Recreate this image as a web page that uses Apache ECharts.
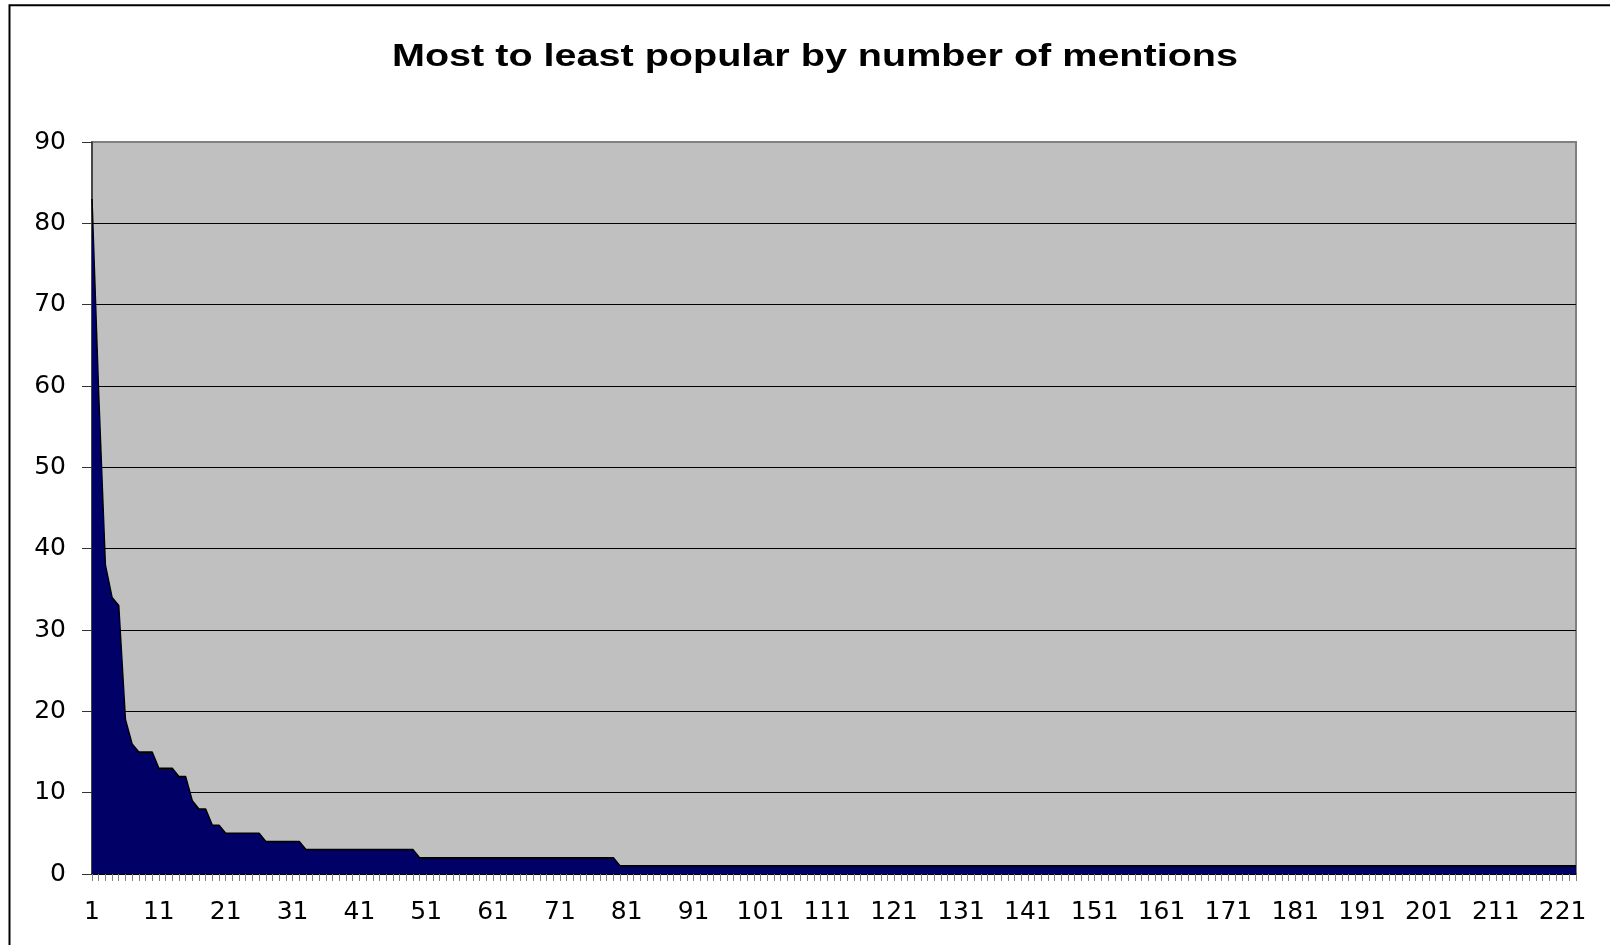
<!DOCTYPE html>
<html>
<head>
<meta charset="utf-8">
<script src="https://cdn.jsdelivr.net/npm/echarts@6/dist/echarts.min.js"></script>
<style>
html,body{margin:0;padding:0;background:#fff;}
#chart{width:1610px;height:945px;}
</style>
</head>
<body>
<div id="chart"></div>
<script>
const titleText = 'Most to least popular by number of mentions';
const yTicks = [0, 10, 20, 30, 40, 50, 60, 70, 80, 90];
// mentions per item, ranked from most to least popular (items 1..223)
const mentions = [
  83, 59, 38, 34, 33, 19, 16, 15, 15, 15,
  13, 13, 13, 12, 12, 9, 8, 8, 6, 6,
  5, 5, 5, 5, 5, 5, 4, 4, 4, 4,
  4, 4, 3, 3, 3, 3, 3, 3, 3, 3,
  3, 3, 3, 3, 3, 3, 3, 3, 3, 2,
  2, 2, 2, 2, 2, 2, 2, 2, 2, 2,
  2, 2, 2, 2, 2, 2, 2, 2, 2, 2,
  2, 2, 2, 2, 2, 2, 2, 2, 2, 1,
  1, 1, 1, 1, 1, 1, 1, 1, 1, 1,
  1, 1, 1, 1, 1, 1, 1, 1, 1, 1,
  1, 1, 1, 1, 1, 1, 1, 1, 1, 1,
  1, 1, 1, 1, 1, 1, 1, 1, 1, 1,
  1, 1, 1, 1, 1, 1, 1, 1, 1, 1,
  1, 1, 1, 1, 1, 1, 1, 1, 1, 1,
  1, 1, 1, 1, 1, 1, 1, 1, 1, 1,
  1, 1, 1, 1, 1, 1, 1, 1, 1, 1,
  1, 1, 1, 1, 1, 1, 1, 1, 1, 1,
  1, 1, 1, 1, 1, 1, 1, 1, 1, 1,
  1, 1, 1, 1, 1, 1, 1, 1, 1, 1,
  1, 1, 1, 1, 1, 1, 1, 1, 1, 1,
  1, 1, 1, 1, 1, 1, 1, 1, 1, 1,
  1, 1, 1, 1, 1, 1, 1, 1, 1, 1,
  1, 1, 1
];
const ranks = mentions.map((_, i) => String(i + 1));

const NUMFONT = '"DejaVu Sans", "Liberation Sans", sans-serif';
const chart = echarts.init(document.getElementById('chart'), null, {renderer: 'canvas'});
const gridLineColors = yTicks.map((v, i) => i === yTicks.length - 1 ? '#808080' : '#000000');

chart.setOption({
  animation: false,
  backgroundColor: '#ffffff',
  graphic: [{
    type: 'rect',
    shape: {x: 9.5, y: 5.3, width: 1700, height: 1000},
    style: {fill: 'none', stroke: '#000', lineWidth: 2},
    silent: true,
    z: 100
  }, {
    type: 'text',
    x: 815,
    y: 57,
    scaleX: 1.236,
    silent: true,
    style: {
      text: titleText,
      x: 0, y: 0,
      align: 'center',
      verticalAlign: 'middle',
      font: 'bold 32px "Liberation Sans", Arial, sans-serif',
      fill: '#000'
    },
    z: 100
  }],
  grid: {
    left: 92, top: 142, right: 34, bottom: 71,
    show: true,
    backgroundColor: '#C0C0C0',
    borderColor: '#808080',
    borderWidth: 2
  },
  xAxis: {
    type: 'category',
    data: ranks,
    boundaryGap: false,
    axisLine: {lineStyle: {color: '#000', width: 1.5}},
    axisTick: {interval: 0, length: 7, lineStyle: {color: '#808080', width: 1}},
    axisLabel: {interval: 9, fontFamily: NUMFONT, fontSize: 25, color: '#000', margin: 26},
    splitLine: {show: false}
  },
  yAxis: {
    type: 'value',
    min: 0, max: 90, interval: 10,
    axisLine: {show: true, lineStyle: {color: '#333', width: 1.5}},
    axisTick: {show: true, length: 10, lineStyle: {color: '#333', width: 1}},
    axisLabel: {fontFamily: NUMFONT, fontSize: 25, color: '#000', margin: 26},
    splitLine: {show: true, lineStyle: {color: gridLineColors, width: 1}}
  },
  series: [{
    type: 'line',
    data: mentions,
    symbol: 'none',
    smooth: false,
    lineStyle: {color: '#000', width: 1.5},
    areaStyle: {color: '#000066', opacity: 1}
  }]
});
</script>
</body>
</html>
